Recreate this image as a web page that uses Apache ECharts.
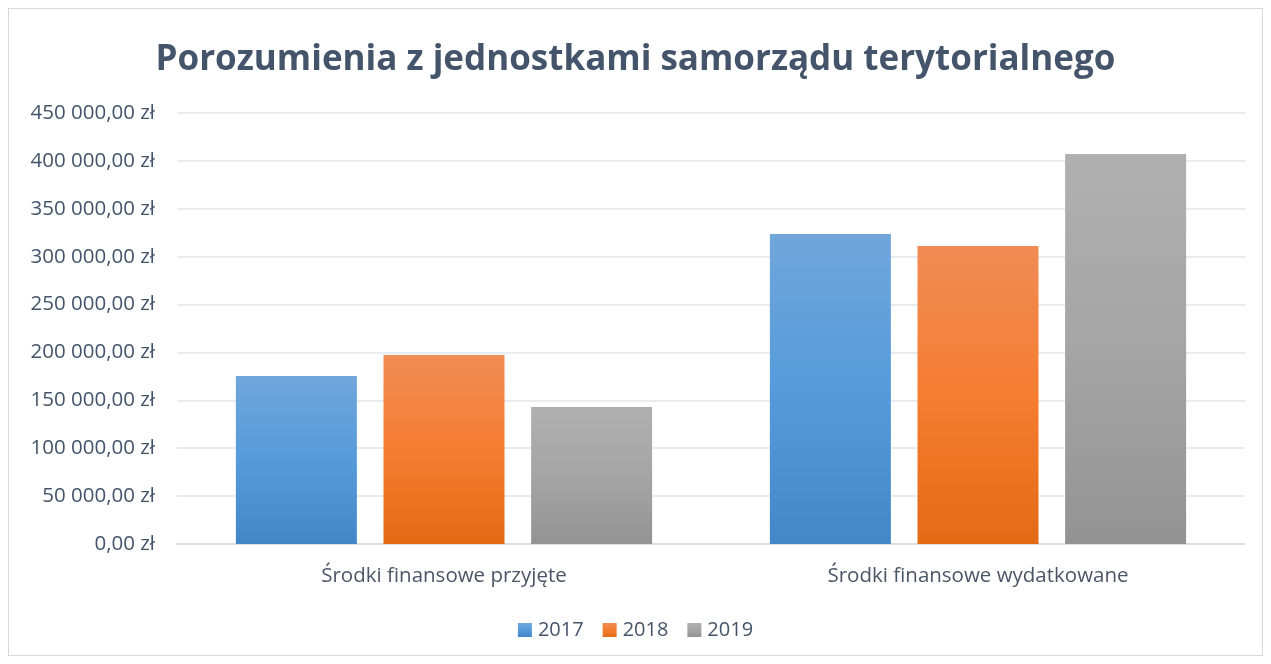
<!DOCTYPE html>
<html>
<head>
<meta charset="utf-8">
<script src="https://cdn.jsdelivr.net/npm/echarts@6/dist/echarts.min.js"></script>
<style>
  html, body { margin: 0; padding: 0; background: #fff; }
  #frame { position: absolute; left: 8px; top: 8px; width: 1253px; height: 646px; border: 1px solid #D9D9D9; }
  #main { position: absolute; left: 0; top: 0; width: 1271px; height: 664px; }
</style>
</head>
<body>
<div id="frame"></div>
<div id="main"></div>
<script>
// data
const categories = ['Środki finansowe przyjęte', 'Środki finansowe wydatkowane'];
const years = ['2017', '2018', '2019'];
const values2017 = [175400, 323700];
const values2018 = [197300, 311100];
const values2019 = [143000, 407200];

const gradients = [
  ['#71A6DB', '#559BDB', '#4487C9'],
  ['#F18C55', '#F47D30', '#E36A15'],
  ['#B0B0B0', '#A5A5A5', '#939393']
];

function grad(c) {
  return new echarts.graphic.LinearGradient(0, 0, 0, 1, [
    { offset: 0, color: c[0] },
    { offset: 0.5, color: c[1] },
    { offset: 1, color: c[2] }
  ]);
}

function zl(v) {
  let s = String(Math.round(v)).replace(/\B(?=(\d{3})+(?!\d))/g, ' ');
  return s + ',00 zł';
}

let myChart = echarts.init(document.getElementById('main'));
let seriesData = [values2017, values2018, values2019];
let option = {
  animation: false,
  title: {
    text: 'Porozumienia z jednostkami samorządu terytorialnego',
    left: 'center',
    top: 38,
    textStyle: {
      fontFamily: 'Open Sans',
      fontWeight: 'bold',
      fontSize: 35,
      color: '#44546A'
    }
  },
  legend: {
    bottom: 19,
    left: 'center',
    itemWidth: 14,
    itemHeight: 14,
    itemGap: 19,
    icon: 'rect',
    textStyle: { fontFamily: 'Open Sans', fontSize: 20, color: '#44546A', padding: [0, 0, 0, 1] },
    data: years
  },
  grid: {
    left: 177,
    right: 26,
    top: 113,
    bottom: 120
  },
  xAxis: {
    type: 'category',
    data: categories,
    axisLine: { lineStyle: { color: '#D9D9D9', width: 1.5 } },
    axisTick: { show: false },
    axisLabel: { fontFamily: 'Open Sans', fontSize: 20.5, color: '#4A5568', margin: 22 }
  },
  yAxis: {
    type: 'value',
    min: 0,
    max: 450000,
    interval: 50000,
    axisLine: { show: false },
    axisTick: { show: false },
    splitLine: { lineStyle: { color: '#E0E4EA', width: 1.5 } },
    axisLabel: {
      fontFamily: 'Open Sans',
      fontSize: 20.5,
      color: '#44546A',
      margin: 22,
      formatter: zl
    }
  },
  series: years.map((y, i) => ({
    name: y,
    type: 'bar',
    data: seriesData[i],
    barWidth: 121,
    barGap: '22%',
    itemStyle: { color: grad(gradients[i]) }
  }))
};
myChart.setOption(option);
</script>
</body>
</html>
